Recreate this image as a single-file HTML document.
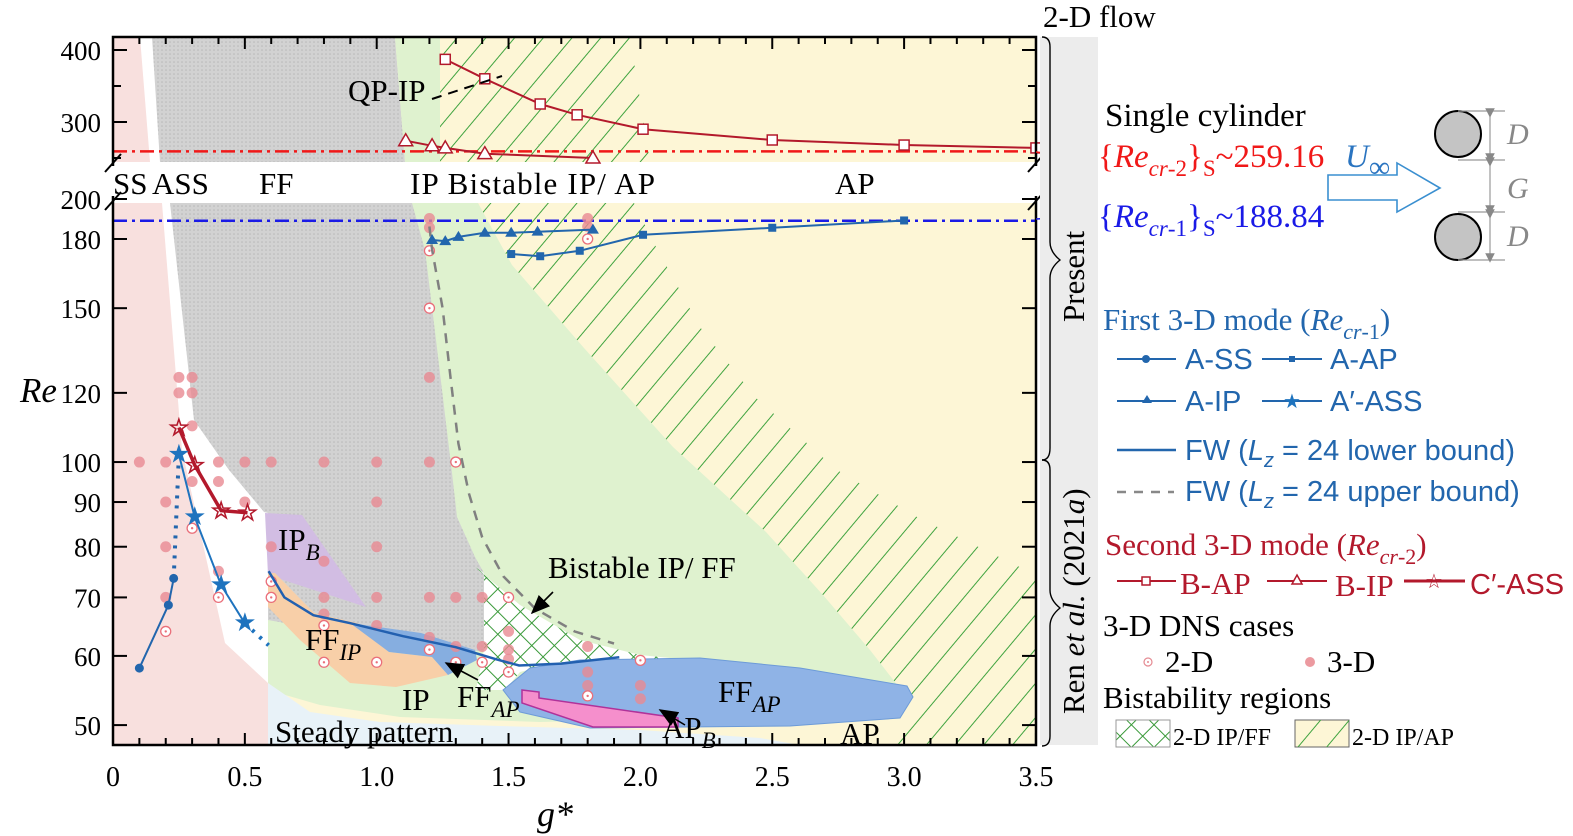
<!DOCTYPE html>
<html><head><meta charset="utf-8"><style>
body{margin:0;background:#fff;}
svg{display:block;font-family:"Liberation Serif",serif;}
</style></head><body>
<svg id="chart" width="1573" height="836" viewBox="0 0 1573 836" xmlns="http://www.w3.org/2000/svg">
<defs>
<pattern id="hatch" width="22" height="22" patternUnits="userSpaceOnUse" patternTransform="rotate(40)">
<line x1="0" y1="0" x2="0" y2="22" stroke="#3fa33f" stroke-width="2"/></pattern>
<pattern id="xhatch" width="16" height="16" patternUnits="userSpaceOnUse" patternTransform="rotate(45)">
<line x1="0" y1="0" x2="0" y2="16" stroke="#3a9a3a" stroke-width="2"/><line x1="0" y1="0" x2="16" y2="0" stroke="#3a9a3a" stroke-width="2"/></pattern>
<pattern id="dots" width="4" height="4" patternUnits="userSpaceOnUse"><rect width="4" height="4" fill="#d2d2d2"/><circle cx="2" cy="2" r="0.8" fill="#b8b8b8"/></pattern>
<marker id="ahr" markerWidth="12" markerHeight="10" refX="11" refY="5" orient="auto"><path d="M0,0 L12,5 L0,10z" fill="#f01818"/></marker>
<marker id="ahb" markerWidth="12" markerHeight="10" refX="11" refY="5" orient="auto"><path d="M0,0 L12,5 L0,10z" fill="#1a1ae6"/></marker>
<marker id="ahk" markerWidth="12" markerHeight="10" refX="11" refY="5" orient="auto"><path d="M0,0 L12,5 L0,10z" fill="#000"/></marker>
<marker id="ahg" markerWidth="8" markerHeight="8" refX="4" refY="4" orient="auto"><path d="M0,0 L8,4 L0,8z" fill="#888"/></marker>
</defs>
<g id="regions"></g>
<g id="marks"></g>
<g id="axes"></g>
<g id="annot">
<text x="113" y="194" font-size="31">SS</text>
<text x="152" y="194" font-size="31">ASS</text>
<text x="259" y="194" font-size="31">FF</text>
<text x="410" y="194" font-size="31" textLength="245">IP Bistable IP/ AP</text>
<text x="835" y="194" font-size="31">AP</text>
<text x="348" y="101" font-size="31">QP-IP</text>
<path d="M432,99 L502,76" stroke="#000" stroke-width="2" stroke-dasharray="10,7" fill="none"/>
<text x="278" y="550" font-size="31">IP<tspan font-size="23" font-style="italic" dy="10">B</tspan></text>
<text x="305" y="650" font-size="31">FF<tspan font-size="23" font-style="italic" dy="10">IP</tspan></text>
<text x="402" y="710" font-size="31">IP</text>
<text x="457" y="707" font-size="31">FF<tspan font-size="23" font-style="italic" dy="10">AP</tspan></text>
<path d="M478,680 L446,663" stroke="#000" stroke-width="1.6" marker-end="url(#ahk)"/>
<text x="275" y="742" font-size="31">Steady pattern</text>
<text x="548" y="578" font-size="31">Bistable IP/ FF</text>
<path d="M553,592 L532,613" stroke="#000" stroke-width="1.6" marker-end="url(#ahk)"/>
<text x="718" y="702" font-size="31">FF<tspan font-size="23" font-style="italic" dy="10">AP</tspan></text>
<text x="662" y="738" font-size="31">AP<tspan font-size="23" font-style="italic" dy="10">B</tspan></text>
<path d="M685,725 L660,710" stroke="#000" stroke-width="1.6" marker-end="url(#ahk)"/>
<text x="840" y="744" font-size="31">AP</text>
<path d="M1036,152 L1095,160" stroke="#f01818" stroke-width="1.6" marker-end="url(#ahr)"/>
<path d="M1036,219 L1095,216" stroke="#1a1ae6" stroke-width="1.6" marker-end="url(#ahb)"/>
<rect x="1040" y="37" width="58" height="708" fill="#ececec"/>
<text x="1043" y="27" font-size="31">2-D flow</text>
<path d="M1042,37 q8,0 8,10 v195 q0,10 10,18 q-10,8 -10,18 v170 q0,12 -8,12" fill="none" stroke="#000" stroke-width="1.4"/>
<path d="M1042,460 q8,0 8,10 v120 q0,10 10,18 q-10,8 -10,18 v110 q0,10 -8,10" fill="none" stroke="#000" stroke-width="1.4"/>
<text transform="translate(1084,322) rotate(-90)" font-size="31">Present</text>
<text transform="translate(1084,714) rotate(-90)" font-size="31">Ren <tspan font-style="italic">et al.</tspan> (2021<tspan font-style="italic">a</tspan>)</text>
<text x="1105" y="126" font-size="33">Single cylinder</text>
<text x="1098" y="167" font-size="33" fill="#f01818">{<tspan font-style="italic">Re</tspan><tspan font-size="23" font-style="italic" dy="9">cr</tspan><tspan font-size="23">-2</tspan><tspan dy="-9">}</tspan><tspan font-size="23" dy="9">S</tspan><tspan dy="-9">~259.16</tspan></text>
<text x="1098" y="227" font-size="33" fill="#1a1ae6">{<tspan font-style="italic">Re</tspan><tspan font-size="23" font-style="italic" dy="9">cr</tspan><tspan font-size="23">-1</tspan><tspan dy="-9">}</tspan><tspan font-size="23" dy="9">S</tspan><tspan dy="-9">~188.84</tspan></text>
<text x="1345" y="167" font-size="33" font-style="italic" fill="#2a74c0">U<tspan font-size="30" font-style="normal" dy="10">∞</tspan></text>
<path d="M1328,175 L1397,175 L1397,163 L1440,188 L1397,212 L1397,200 L1328,200 Z" fill="none" stroke="#3a8fd0" stroke-width="1.6"/>
<circle cx="1458" cy="134" r="23" fill="#c4c4c4" stroke="#000" stroke-width="2"/>
<circle cx="1458" cy="237" r="23" fill="#c4c4c4" stroke="#000" stroke-width="2"/>
<g stroke="#999" stroke-width="1.2">
<line x1="1458" y1="111" x2="1505" y2="111"/><line x1="1458" y1="160" x2="1505" y2="160"/><line x1="1458" y1="212" x2="1505" y2="212"/><line x1="1458" y1="260" x2="1505" y2="260"/>
<line x1="1490" y1="113" x2="1490" y2="158" marker-end="url(#ahg)" marker-start="url(#ahg)"/><line x1="1490" y1="162" x2="1490" y2="210" marker-end="url(#ahg)" marker-start="url(#ahg)"/><line x1="1490" y1="214" x2="1490" y2="258" marker-end="url(#ahg)" marker-start="url(#ahg)"/>
</g>
<text x="1507" y="144" font-size="30" font-style="italic" fill="#888">D</text>
<text x="1507" y="198" font-size="30" font-style="italic" fill="#888">G</text>
<text x="1507" y="246" font-size="30" font-style="italic" fill="#888">D</text>
</g>
<g id="legend">
<text x="1103" y="330" font-size="31" fill="#2266ad">First 3-D mode (<tspan font-style="italic">Re</tspan><tspan font-size="22" font-style="italic" dy="9">cr</tspan><tspan font-size="22">-1</tspan><tspan dy="-9">)</tspan></text>
<g><line x1="1117" y1="359" x2="1176" y2="359" stroke="#2266ad" stroke-width="2"/><circle cx="1146" cy="359" r="4" fill="#2266ad"/><text x="1185" y="369" font-size="29" fill="#2266ad" font-family="Liberation Sans">A-SS</text></g>
<g><line x1="1262" y1="359" x2="1322" y2="359" stroke="#2266ad" stroke-width="2"/><rect x="1289" y="356" width="6" height="6" fill="#2266ad"/><text x="1330" y="369" font-size="29" fill="#2266ad" font-family="Liberation Sans">A-AP</text></g>
<g><line x1="1117" y1="401" x2="1176" y2="401" stroke="#2266ad" stroke-width="2"/><path d="M1147,395 l5,8 h-10z" fill="#2266ad"/><text x="1185" y="411" font-size="29" fill="#2266ad" font-family="Liberation Sans">A-IP</text></g>
<g><line x1="1262" y1="401" x2="1322" y2="401" stroke="#2266ad" stroke-width="2"/><text x="1292" y="408" font-size="20" fill="#1e73be" text-anchor="middle">★</text><text x="1330" y="411" font-size="29" fill="#2266ad" font-family="Liberation Sans">A′-ASS</text></g>
<g><line x1="1117" y1="450" x2="1176" y2="450" stroke="#2266ad" stroke-width="2.5"/><text x="1185" y="460" font-size="29" fill="#2266ad" font-family="Liberation Sans">FW (<tspan font-style="italic">L</tspan><tspan font-size="20" dy="7" font-style="italic">z</tspan><tspan dy="-7"> = 24 lower bound)</tspan></text></g>
<g><line x1="1117" y1="492" x2="1174" y2="492" stroke="#888" stroke-width="2.5" stroke-dasharray="9,8"/><text x="1185" y="501" font-size="29" fill="#2266ad" font-family="Liberation Sans">FW (<tspan font-style="italic">L</tspan><tspan font-size="20" dy="7" font-style="italic">z</tspan><tspan dy="-7"> = 24 upper bound)</tspan></text></g>
<text x="1105" y="555" font-size="31" fill="#b3192c">Second 3-D mode (<tspan font-style="italic">Re</tspan><tspan font-size="22" font-style="italic" dy="9">cr</tspan><tspan font-size="22">-2</tspan><tspan dy="-9">)</tspan></text>
<g><line x1="1117" y1="581" x2="1176" y2="581" stroke="#b3192c" stroke-width="2"/><rect x="1142" y="577" width="8" height="8" fill="#fff" stroke="#b3192c" stroke-width="1.5"/><text x="1180" y="594" font-size="31" fill="#b3192c">B-AP</text></g>
<g><line x1="1267" y1="581" x2="1327" y2="581" stroke="#b3192c" stroke-width="2"/><path d="M1297,575 l5,9 h-10z" fill="#fff" stroke="#b3192c" stroke-width="1.5"/><text x="1335" y="596" font-size="31" fill="#b3192c">B-IP</text></g>
<g><line x1="1404" y1="581" x2="1465" y2="581" stroke="#b3192c" stroke-width="3"/><text x="1434" y="588" font-size="20" fill="#b3192c" text-anchor="middle">☆</text><text x="1470" y="594" font-size="29" fill="#b3192c" font-family="Liberation Sans">C′-ASS</text></g>
<text x="1103" y="636" font-size="31">3-D DNS cases</text>
<g><circle cx="1148" cy="662" r="4" fill="#fff" stroke="#e58a92" stroke-width="1.2"/><circle cx="1148" cy="662" r="1" fill="#e58a92"/><text x="1165" y="672" font-size="31">2-D</text></g>
<g><circle cx="1310" cy="662" r="5" fill="#ec9aa0"/><text x="1327" y="672" font-size="31">3-D</text></g>
<text x="1103" y="708" font-size="31">Bistability regions</text>
<g><rect x="1116" y="720" width="54" height="27" fill="url(#xhatch)" stroke="#999"/><text x="1173" y="745" font-size="24">2-D IP/FF</text></g>
<g><rect x="1295" y="720" width="54" height="27" fill="#fdf6d6" stroke="#666"/><rect x="1295" y="720" width="54" height="27" fill="url(#hatch)"/><text x="1352" y="745" font-size="24">2-D IP/AP</text></g>
</g>
<script>
// ---------- data ----------
const xTicks = [0, 0.5, 1.0, 1.5, 2.0, 2.5, 3.0, 3.5];
const xTickLabels = ["0", "0.5", "1.0", "1.5", "2.0", "2.5", "3.0", "3.5"];
const yTicksLower = [50, 60, 70, 80, 90, 100, 120, 150, 180, 200];
const yTicksUpper = [300, 400];
const recr1Single = 188.84;
const recr2Single = 259.16;
const aSS_g = [0.1, 0.21, 0.23];
const aSS_re = [58.1, 68.6, 73.6];
const aSSdot_g = [0.23, 0.25];
const aSSdot_re = [73.6, 102];
const aPrime_g = [0.25, 0.31, 0.41, 0.5];
const aPrime_re = [102, 86.5, 72.3, 65.4];
const aPrimeDot_g = [0.5, 0.59];
const aPrimeDot_re = [65.4, 61.7];
const cPrime_g = [0.25, 0.31, 0.41, 0.51];
const cPrime_re = [109.5, 99.2, 88, 87.5];
const aIP_g = [1.21, 1.26, 1.31, 1.41, 1.51, 1.61, 1.82];
const aIP_re = [179.5, 179, 181, 183, 183, 183.5, 184.5];
const aAP_g = [1.51, 1.62, 1.77, 2.01, 2.5, 3.0];
const aAP_re = [173, 172, 174.5, 182, 185.4, 189];
const bAP_g = [1.26, 1.41, 1.62, 1.76, 2.01, 2.5, 3.0, 3.5];
const bAP_re = [387, 360, 325, 310, 290, 275, 268, 264];
const bIP_g = [1.11, 1.21, 1.26, 1.41, 1.82];
const bIP_re = [274, 267, 264, 256, 250];
const fwLow_g = [0.59, 0.65, 0.76, 0.9, 1.1, 1.3, 1.45, 1.54, 1.7, 1.92];
const fwLow_re = [75, 70, 66.8, 65.4, 63.2, 61.4, 59.5, 58.5, 58.8, 59.8];
const fwUp_g = [1.2, 1.21, 1.25, 1.28, 1.31, 1.35, 1.4, 1.48, 1.6, 1.75, 1.9];
const fwUp_re = [186, 175, 150, 125, 105, 92, 82, 74, 68, 64, 62];
const dns3d_g = [0.25,0.3,1.2, 0.25,0.3, 0.3, 0.1,0.2,0.4,0.5,0.6,0.8,1.0,1.2, 0.3,0.4, 0.2,0.5,1.0, 0.2,0.6,1.0, 0.8, 0.4, 0.2,0.8,1.0,1.2,1.3,1.4, 0.8, 1.0, 1.2, 1.3,1.4,1.8, 1.5,1.5,1.5, 1.8,1.8, 2.0,2.0, 1.2,1.2,1.8,1.8];
const dns3d_re = [125,125,125, 120,120, 110, 100,100,100,100,100,100,100,100, 95,95, 90,90,90, 80,80,80, 77, 75, 70,70,70,70,70,70, 67, 65, 63, 61.5,61.5,61.5, 64,61,59.5, 57.5,55.5, 55.5,53.6, 190,185.5,190,186];
const dns2d_g = [1.3, 0.2, 0.4, 0.3, 0.6, 0.6, 0.8, 0.8, 1.0, 1.2, 1.3, 1.4, 1.5, 1.5, 1.8, 2.0, 1.2, 1.2, 1.8];
const dns2d_re = [100, 64, 70, 84, 73, 70, 65, 59, 59, 61, 59, 59, 70, 57.5, 54, 59.3, 174.5, 150, 180];

// ---------- scales ----------
const X = g => 113 + g * 263.7;
const YL = re => 199 + (Math.log(200) - Math.log(re)) * 379.5;
const YU = re => 122 - (re - 300) * 0.72;
const Y = re => re >= 245 ? YU(re) : YL(re);
const NS = "http://www.w3.org/2000/svg";
function mk(tag, attrs, parent) {
  const e = document.createElementNS(NS, tag);
  for (const k in attrs) e.setAttribute(k, attrs[k]);
  parent.appendChild(e);
  return e;
}
const R = document.getElementById('regions');
const M = document.getElementById('marks');
const A = document.getElementById('axes');

function poly(pts, fill, name, extra) {
  const p = mk('polygon', Object.assign({points: pts, fill: fill}, extra || {}), R);
  
  
  return p;
}
poly("113,37 1036,37 1036,745 113,745", "#fdf6d6", "ap-region");
poly("113,37 160,37 160,162 113,162", "#ffffff", "white-gap-upper");
poly("113,203 270,203 270,745 113,745", "#ffffff", "white-gap-lower");
poly("113,162 1036,162 1036,203 113,203", "#ffffff", "break-band");
poly("113,37 140,37 150,162 113,162", "#f8e0de", "ss-region-upper");
poly("152,37 395,37 405,162 160,162", "url(#dots)", "ff-region-upper");
poly("395,37 440,37 440,162 405,162", "#dff2cf", "ip-region-upper");
poly("440,37 630,37 650,162 440,162", "url(#hatch)", "ip-ap-hatch-upper");
poly("405,203 478,203 512,265 584,348 673,447 766,532 823,595 870,650 905,695 812,702 700,718 540,722 400,717 320,705 268,690 268,560 405,560", "#dff2cf", "ip-region-lower");
poly("478,203 634,203 655,245 700,327 755,397 837,470 917,517 1036,575 1036,745 890,745 905,695 870,650 823,595 766,532 673,447 584,348 512,265", "url(#hatch)", "ip-ap-hatch-lower");
poly("268,683 310,712 380,722 500,726 640,730 760,738 800,745 268,745", "#e8f2f8", "steady-region");
poly("113,203 162,203 182,450 225,643 268,683 268,745 113,745", "#f8e0de", "ss-region-lower");
poly("170,203 412,203 425,250 436,340 452,473 457,517 475,557 484,573 484,650 440,655 380,640 268,620 268,513 264,512 229,470 194,420", "url(#dots)", "ff-region-lower");
poly("475,567 520,605 580,640 640,655 690,660 560,662 520,672 505,690 476,690 484,650 484,573", "#ffffff", "ip-ff-white");
poly("475,567 520,605 580,640 640,655 690,660 560,662 520,672 505,690 476,690 484,650 484,573", "url(#xhatch)", "ip-ff-crosshatch");
poly("265,513 302,515 366,607 268,575", "#d2bde3", "ip-b-region");
poly("268,573 275,573 314,613 357,623 389,652 432,657 448,675 396,687 350,683 300,640 268,607", "#f8cfa8", "ff-ip-region");
poly("350,623 421,633 475,650 477,660 448,675 432,657 389,652", "#86aee0", "ff-ap-small-region");
poly("503,690 530,668 580,660 700,658 800,668 907,686 913,697 900,718 790,726 590,728 520,712", "#8fb3e6", "ff-ap-large-region", {stroke: "#6d9bd8", "stroke-width": 1});
poly("522,690 539,692 539,698 678,718 678,727 593,727 522,703", "#f58fcc", "ap-b-region", {stroke: "#b0329a", "stroke-width": 1.5});

const l2 = mk('line', {x1: 113, x2: 1036, y1: Y(recr2Single), y2: Y(recr2Single), stroke: "#f01818", "stroke-width": 2.5, "stroke-dasharray": "14,5,3,5"}, M);


const l1 = mk('line', {x1: 113, x2: 1036, y1: Y(recr1Single), y2: Y(recr1Single), stroke: "#1a1ae6", "stroke-width": 2.5, "stroke-dasharray": "14,5,3,5"}, M);



for (let i = 0; i < dns3d_g.length; i++) {
  const c = mk('circle', {cx: X(dns3d_g[i]), cy: Y(dns3d_re[i]), r: 5.5, fill: "#e98a92", "fill-opacity": 0.8}, M);
  
  
}
for (let i = 0; i < dns2d_g.length; i++) {
  const c = mk('circle', {cx: X(dns2d_g[i]), cy: Y(dns2d_re[i]), r: 5, fill: "#fff", stroke: "#ea6f7a", "stroke-width": 1.3}, M);
  
  
  mk('circle', {cx: X(dns2d_g[i]), cy: Y(dns2d_re[i]), r: 1.2, fill: "#ea6f7a"}, M);
}

function path(gs, res, color, w, dash, name) {
  const d = gs.map((g, i) => (i ? 'L' : 'M') + X(g).toFixed(1) + ',' + Y(res[i]).toFixed(1)).join(' ');
  const p = mk('path', {d: d, fill: "none", stroke: color, "stroke-width": w}, M);
  if (dash) p.setAttribute('stroke-dasharray', dash);
  
  
}
path(fwUp_g, fwUp_re, "#808080", 2.5, "10,8", "fw-upper-bound-line");
path(fwLow_g, fwLow_re, "#2260b0", 2.5, null, "fw-lower-bound-line");
path(aSS_g, aSS_re, "#2266ad", 2, null, "a-ss-line");
path(aSSdot_g, aSSdot_re, "#2266ad", 4, "3,7", "a-ss-dotted");
path(aPrime_g, aPrime_re, "#1e73be", 2, null, "a-prime-ass-line");
path(aPrimeDot_g, aPrimeDot_re, "#1e73be", 4, "3,7", "a-prime-ass-dotted");
path(cPrime_g, cPrime_re, "#b3192c", 3.5, null, "c-prime-ass-line");
path(aIP_g, aIP_re, "#2266ad", 2, null, "a-ip-line");
path(aAP_g, aAP_re, "#2266ad", 2, null, "a-ap-line");
path(bAP_g, bAP_re, "#b3192c", 2, null, "b-ap-line");
path(bIP_g, bIP_re, "#b3192c", 2, null, "b-ip-line");

function markers(gs, res, kind, name) {
  for (let i = 0; i < gs.length; i++) {
    const x = X(gs[i]), y = Y(res[i]);
    let e;
    if (kind === 'circle') e = mk('circle', {cx: x, cy: y, r: 4.5, fill: "#2266ad"}, M);
    else if (kind === 'square') e = mk('rect', {x: x - 4, y: y - 4, width: 8, height: 8, fill: "#2266ad"}, M);
    else if (kind === 'tri') e = mk('path', {d: `M${x},${y-6} L${x+6},${y+4} L${x-6},${y+4}Z`, fill: "#2266ad"}, M);
    else if (kind === 'star') { e = mk('text', {x: x, y: y + 8, "font-size": 26, fill: "#1e73be", "text-anchor": "middle"}, M); e.textContent = '★'; }
    else if (kind === 'ostar') { e = mk('text', {x: x, y: y + 8, "font-size": 24, fill: "#b3192c", "text-anchor": "middle", "font-weight": "bold"}, M); e.textContent = '☆'; }
    else if (kind === 'osq') e = mk('rect', {x: x - 5, y: y - 5, width: 10, height: 10, fill: "#fff", stroke: "#b3192c", "stroke-width": 1.5}, M);
    else if (kind === 'otri') e = mk('path', {d: `M${x},${y-7} L${x+7},${y+5} L${x-7},${y+5}Z`, fill: "#fff", stroke: "#b3192c", "stroke-width": 1.5}, M);
    
    
  }
}
markers(aSS_g, aSS_re, 'circle', 'a-ss-marker');
markers(aPrime_g, aPrime_re, 'star', 'a-prime-ass-marker');
markers(cPrime_g, cPrime_re, 'ostar', 'c-prime-ass-marker');
markers(aIP_g, aIP_re, 'tri', 'a-ip-marker');
markers(aAP_g, aAP_re, 'square', 'a-ap-marker');
markers(bAP_g, bAP_re, 'osq', 'b-ap-marker');
markers(bIP_g, bIP_re, 'otri', 'b-ip-marker');

const frame = mk('path', {d: "M113,37 H1036 V745 H113 Z", fill: "none", stroke: "#000", "stroke-width": 2.5}, A);


mk('rect', {x: 108, y: 166, width: 10, height: 30, fill: "#fff"}, A);
mk('rect', {x: 1031, y: 166, width: 10, height: 30, fill: "#fff"}, A);
for (const bx of [113, 1036]) {
  mk('line', {x1: bx - 8, y1: 172, x2: bx + 8, y2: 154, stroke: "#000", "stroke-width": 2}, A);
  mk('line', {x1: bx - 8, y1: 210, x2: bx + 8, y2: 192, stroke: "#000", "stroke-width": 2}, A);
}
for (let v = 0; v <= 3.5001; v += 0.1) {
  const major = Math.abs(v * 2 - Math.round(v * 2)) < 1e-6;
  const len = major ? 12 : 7;
  mk('line', {x1: X(v), x2: X(v), y1: 745, y2: 745 - len, stroke: "#000", "stroke-width": 2}, A);
  mk('line', {x1: X(v), x2: X(v), y1: 37, y2: 37 + len, stroke: "#000", "stroke-width": 2}, A);
}
xTicks.forEach((v, i) => {
  const t = mk('text', {x: X(v), y: 786, "font-size": 28, "text-anchor": "middle"}, A);
  t.textContent = xTickLabels[i];
  
  
});
yTicksLower.forEach(v => {
  const y = YL(v);
  mk('line', {x1: 113, x2: 127, y1: y, y2: y, stroke: "#000", "stroke-width": 2}, A);
  mk('line', {x1: 1036, x2: 1022, y1: y, y2: y, stroke: "#000", "stroke-width": 2}, A);
  const t = mk('text', {x: 101, y: y + 10, "font-size": 27, "text-anchor": "end"}, A);
  t.textContent = String(v);
  
  
});
[250, 350].forEach(v => {
  mk('line', {x1: 113, x2: 121, y1: YU(v), y2: YU(v), stroke: "#000", "stroke-width": 2}, A);
  mk('line', {x1: 1036, x2: 1028, y1: YU(v), y2: YU(v), stroke: "#000", "stroke-width": 2}, A);
});
yTicksUpper.forEach(v => {
  const y = YU(v);
  mk('line', {x1: 113, x2: 127, y1: y, y2: y, stroke: "#000", "stroke-width": 2}, A);
  mk('line', {x1: 1036, x2: 1022, y1: y, y2: y, stroke: "#000", "stroke-width": 2}, A);
  const t = mk('text', {x: 101, y: y + 10, "font-size": 27, "text-anchor": "end"}, A);
  t.textContent = String(v);
  
  
});
const yt = mk('text', {x: 20, y: 402, "font-size": 35, "font-style": "italic"}, A);
yt.textContent = 'Re';


const xt = mk('text', {x: 537, y: 826, "font-size": 36, "font-style": "italic"}, A);
xt.textContent = 'g*';


</script>
</svg>
</body></html>
